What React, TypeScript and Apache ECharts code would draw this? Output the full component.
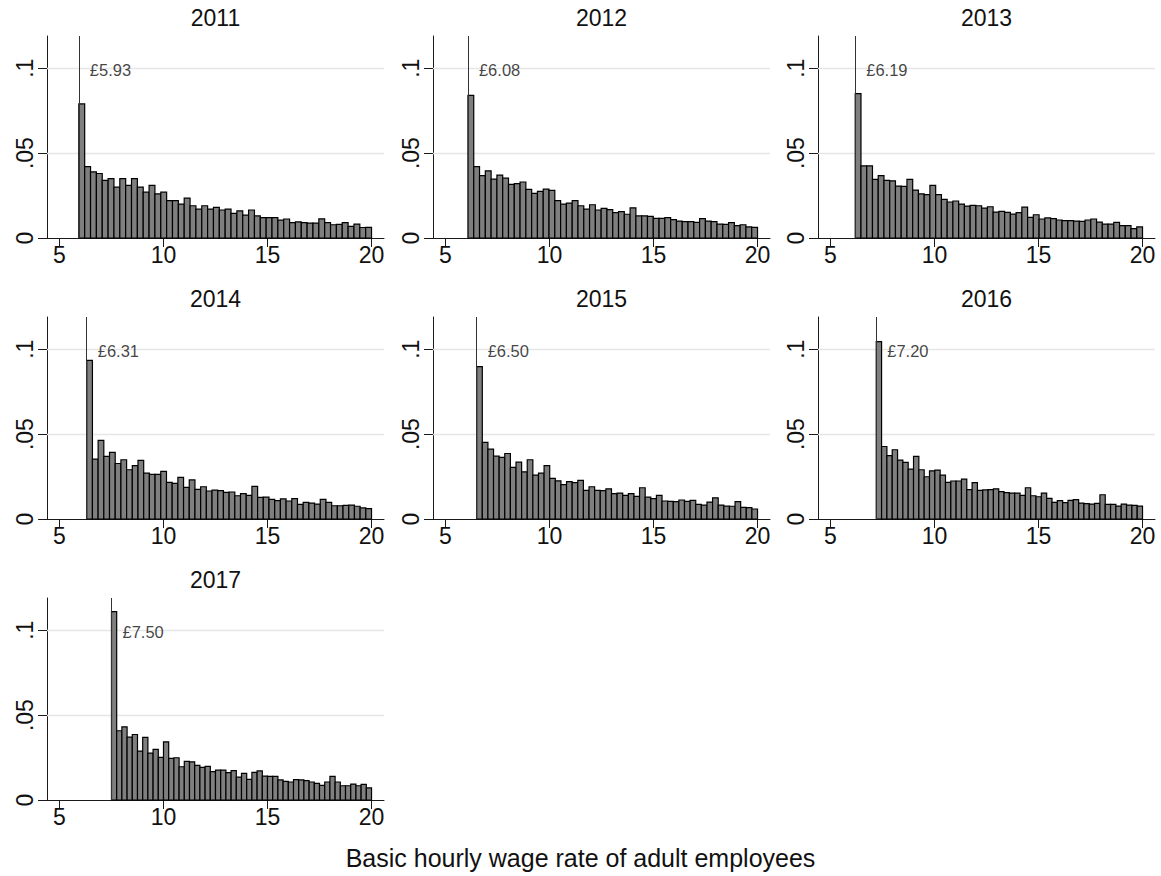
import React, { useEffect, useRef } from "react";
import * as echarts from "echarts";

const years = ["2011", "2012", "2013", "2014", "2015", "2016", "2017"];
const minWages = [5.93, 6.08, 6.19, 6.31, 6.5, 7.2, 7.5];
const wageLabels = ["£5.93", "£6.08", "£6.19", "£6.31", "£6.50", "£7.20", "£7.50"];
const xTicks = [5, 10, 15, 20];
const yTicks = [0, 0.05, 0.1];
const yTickLabels: Record<string, string> = { "0": "0", "0.05": ".05", "0.1": ".1" };
const gridValues = [0.05, 0.1];
const xAxisTitle = "Basic hourly wage rate of adult employees";
const binTop = 20;
const binCount = 50;

const density2011 = [
  0.079, 0.042, 0.039, 0.038, 0.034, 0.035, 0.030, 0.035, 0.031, 0.035,
  0.030, 0.027, 0.031, 0.026, 0.027, 0.022, 0.022, 0.020, 0.0235, 0.019,
  0.017, 0.019, 0.017, 0.018, 0.0165, 0.017, 0.0145, 0.016, 0.0135, 0.0165,
  0.013, 0.012, 0.012, 0.012, 0.0105, 0.0112, 0.009, 0.0095, 0.009, 0.0088,
  0.0088, 0.0113, 0.009, 0.0078, 0.008, 0.009, 0.0068, 0.0082, 0.0062, 0.0063,
];
const density2012 = [
  0.084, 0.042, 0.0367, 0.0396, 0.0347, 0.037, 0.0353, 0.0316, 0.032, 0.033,
  0.0286, 0.0263, 0.0275, 0.0288, 0.028, 0.022, 0.020, 0.0206, 0.022, 0.019,
  0.017, 0.0196, 0.0165, 0.0175, 0.0167, 0.015, 0.0155, 0.014, 0.0178, 0.013,
  0.013, 0.0127, 0.0116, 0.0116, 0.012, 0.0108, 0.010, 0.0096, 0.0096, 0.0092,
  0.0114, 0.010, 0.0096, 0.0082, 0.008, 0.009, 0.0073, 0.0078, 0.0065, 0.0063,
];
const density2013 = [
  0.085, 0.0425, 0.0425, 0.0345, 0.0367, 0.034, 0.0337, 0.0306, 0.0304, 0.0345,
  0.0282, 0.026, 0.0255, 0.031, 0.0255, 0.0227, 0.0212, 0.0218, 0.020, 0.0188,
  0.0192, 0.019, 0.0176, 0.0184, 0.0153, 0.0157, 0.0151, 0.0141, 0.0149, 0.0182,
  0.0122, 0.0137, 0.0112, 0.0118, 0.0114, 0.0106, 0.0102, 0.0102, 0.010, 0.0098,
  0.0106, 0.0112, 0.0094, 0.0082, 0.0082, 0.0092, 0.0073, 0.0073, 0.0055, 0.0065,
];
const density2014 = [
  0.0935, 0.0353, 0.0463, 0.0369, 0.0392, 0.0327, 0.0349, 0.029, 0.0314, 0.0345,
  0.027, 0.0263, 0.0263, 0.028, 0.0216, 0.021, 0.0245, 0.0186, 0.023, 0.0175,
  0.019, 0.0165, 0.017, 0.0167, 0.0157, 0.0159, 0.0137, 0.0149, 0.0139, 0.0192,
  0.0127, 0.0129, 0.0116, 0.0108, 0.0118, 0.0106, 0.012, 0.0086, 0.0098, 0.0094,
  0.0088, 0.0116, 0.0098, 0.0078, 0.0078, 0.008, 0.0082, 0.0075, 0.0065, 0.0061,
];
const density2015 = [
  0.0898, 0.0451, 0.0412, 0.037, 0.0363, 0.0386, 0.0304, 0.0335, 0.0278, 0.0349,
  0.0259, 0.027, 0.0314, 0.0239, 0.0225, 0.0202, 0.022, 0.0214, 0.0227, 0.0169,
  0.019, 0.0169, 0.0167, 0.0178, 0.0149, 0.0153, 0.0139, 0.0149, 0.0133, 0.0184,
  0.0129, 0.012, 0.0139, 0.0106, 0.0104, 0.0102, 0.0112, 0.0104, 0.011, 0.0086,
  0.0082, 0.010, 0.0125, 0.0082, 0.0076, 0.0075, 0.0102, 0.0069, 0.0067, 0.0059,
];
const density2016 = [
  0.1045, 0.0427, 0.0373, 0.0408, 0.0347, 0.0333, 0.0294, 0.0369, 0.029, 0.0249,
  0.0284, 0.0288, 0.0259, 0.0216, 0.0224, 0.0224, 0.0235, 0.0173, 0.0214, 0.0169,
  0.0171, 0.0173, 0.0178, 0.0161, 0.0155, 0.0153, 0.0153, 0.0139, 0.0184, 0.0137,
  0.0131, 0.0153, 0.0122, 0.0098, 0.0108, 0.0096, 0.011, 0.0114, 0.0094, 0.009,
  0.0088, 0.0092, 0.0143, 0.0086, 0.0086, 0.0076, 0.0088, 0.0082, 0.008, 0.0076,
];
const density2017 = [
  0.111, 0.0408, 0.0431, 0.037, 0.0386, 0.0288, 0.0369, 0.0276, 0.0298, 0.0251,
  0.0343, 0.0245, 0.0249, 0.0196, 0.0227, 0.0225, 0.0204, 0.0192, 0.0198, 0.0167,
  0.0176, 0.0176, 0.0161, 0.0173, 0.0135, 0.0157, 0.0122, 0.0163, 0.0171, 0.0141,
  0.0139, 0.0139, 0.0118, 0.011, 0.0106, 0.012, 0.0118, 0.0114, 0.0106, 0.0098,
  0.0086, 0.0106, 0.0139, 0.0106, 0.0084, 0.0084, 0.0094, 0.0084, 0.0092, 0.0071,
];
const densities = [density2011, density2012, density2013, density2014, density2015, density2016, density2017];

const FONT = "'Liberation Sans', Arial, Helvetica, sans-serif";
const AXIS_COLOR = "#1a1a1a";
const colLeft = [47, 433, 818];
const rowTop = [36, 317, 598];
const gridW = 337;
const gridH = 202;

function buildOption() {
  const grid: any[] = [];
  const xAxis: any[] = [];
  const yAxis: any[] = [];
  const series: any[] = [];
  const graphic: any[] = [];

  years.forEach((year, i) => {
    const r = Math.floor(i / 3);
    const c = i % 3;
    grid.push({ left: colLeft[c], top: rowTop[r], width: gridW, height: gridH, containLabel: false });
    xAxis.push({
      type: "value",
      gridIndex: i,
      min: 4.4,
      max: 20.6,
      splitLine: { show: false },
      axisLine: { show: true, onZero: false, lineStyle: { color: AXIS_COLOR, width: 1 } },
      axisTick: { show: true, length: 9, customValues: xTicks, lineStyle: { color: AXIS_COLOR } },
      axisLabel: {
        show: true,
        customValues: xTicks,
        margin: 5,
        fontSize: 23,
        fontFamily: FONT,
        color: "#111",
      },
    });
    yAxis.push({
      type: "value",
      gridIndex: i,
      min: 0,
      max: 0.119,
      splitLine: { show: false },
      axisLine: { show: true, onZero: false, lineStyle: { color: AXIS_COLOR, width: 1 } },
      axisTick: { show: true, length: 9, customValues: yTicks, lineStyle: { color: AXIS_COLOR } },
      axisLabel: {
        show: true,
        customValues: yTicks,
        rotate: 90,
        margin: 11,
        fontSize: 23,
        fontFamily: FONT,
        color: "#111",
        formatter: (v: number) => yTickLabels[String(v)] ?? "",
      },
    });

    const minW = minWages[i];
    const width = (binTop - minW) / binCount;
    const data = densities[i].map((d, k) => [minW + k * width, minW + (k + 1) * width, d]);

    // grid lines
    series.push({
      type: "line",
      xAxisIndex: i,
      yAxisIndex: i,
      data: [],
      silent: true,
      z: 1,
      markLine: {
        silent: true,
        symbol: "none",
        animation: false,
        z: 1,
        label: { show: false },
        lineStyle: { color: "#e6e6e6", width: 1.3, type: "solid" },
        data: gridValues.map((v) => ({ yAxis: v })),
      },
    });

    // histogram bars
    series.push({
      type: "custom",
      xAxisIndex: i,
      yAxisIndex: i,
      z: 3,
      silent: true,
      encode: { x: [0, 1], y: 2 },
      data,
      renderItem: (params: any, api: any) => {
        const p0 = api.coord([api.value(0), api.value(2)]);
        const p1 = api.coord([api.value(1), 0]);
        return {
          type: "rect",
          shape: { x: p0[0], y: p0[1], width: p1[0] - p0[0], height: p1[1] - p0[1] },
          style: { fill: "#7f7f7f", stroke: "#000", lineWidth: 1.2 },
        };
      },
    });

    // minimum wage line
    series.push({
      type: "line",
      xAxisIndex: i,
      yAxisIndex: i,
      data: [],
      silent: true,
      z: 4,
      markLine: {
        silent: true,
        symbol: "none",
        animation: false,
        z: 6,
        label: { show: false },
        lineStyle: { color: "#333", width: 1, type: "solid" },
        data: [{ xAxis: minW }],
      },
    });

    // minimum wage label
    series.push({
      type: "scatter",
      xAxisIndex: i,
      yAxisIndex: i,
      silent: true,
      z: 7,
      symbolSize: 0,
      data: [[minW, 0.1]],
      label: {
        show: true,
        position: "right",
        distance: 11,
        offset: [0, 2],
        formatter: wageLabels[i],
        fontSize: 16.5,
        fontFamily: FONT,
        color: "#111",
      },
    });

    graphic.push({
      type: "text",
      x: colLeft[c] + gridW / 2,
      y: rowTop[r] - 18,
      style: {
        text: year,
        font: `23px ${FONT}`,
        fill: "#111",
        textAlign: "center",
        textVerticalAlign: "middle",
      },
    });
  });

  graphic.push({
    type: "text",
    x: 580.5,
    y: 858,
    style: {
      text: xAxisTitle,
      font: `25px ${FONT}`,
      fill: "#111",
      textAlign: "center",
      textVerticalAlign: "middle",
    },
  });

  return {
    animation: false,
    backgroundColor: "#ffffff",
    grid,
    xAxis,
    yAxis,
    series,
    graphic,
  };
}

export default function App() {
  const ref = useRef<HTMLDivElement>(null);
  useEffect(() => {
    if (!ref.current) return;
    const chart = echarts.init(ref.current, undefined, { renderer: "svg" });
    chart.setOption(buildOption() as any);
    return () => chart.dispose();
  }, []);
  return (
    <div
      ref={ref}
      style={{ position: "absolute", left: 0, top: 0, width: 1161, height: 876, background: "#fff" }}
    />
  );
}
